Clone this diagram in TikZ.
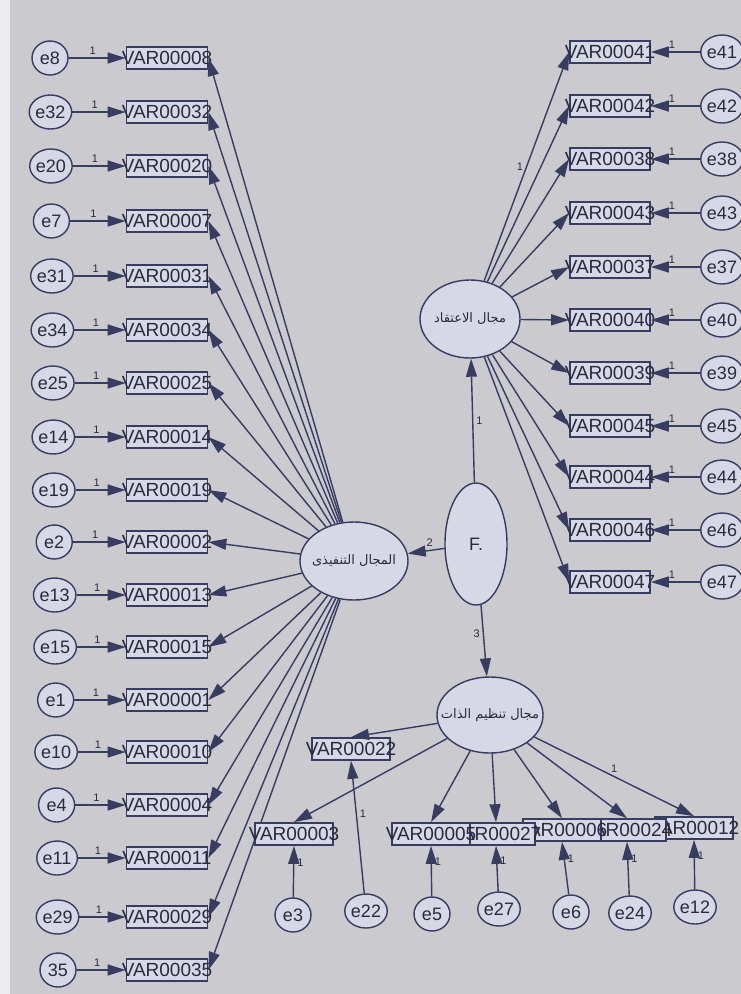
\documentclass[tikz,border=0pt]{standalone}
\usepackage{fontspec}
\setmainfont{Liberation Sans}
\newfontfamily\arabicfont[Script=Arabic]{DejaVu Sans}
\TeXXeTstate=1
\usetikzlibrary{shapes.geometric,arrows.meta}
\definecolor{bgc}{RGB}{202,202,207}
\definecolor{strip}{RGB}{236,236,238}
\definecolor{navy}{RGB}{56,60,96}
\definecolor{boxfill}{RGB}{214,216,230}
\definecolor{ink}{RGB}{40,42,62}
\tikzset{
  obs/.style={rectangle, draw=navy, line width=1.7pt, fill=boxfill,
    minimum width=81pt, minimum height=22pt, inner sep=0pt},
  obsb/.style={obs, minimum width=78pt},
  obstxt/.style={font=\fontsize{19}{19}\selectfont, text=ink, inner sep=0pt},
  err/.style={ellipse, draw=navy, line width=1.4pt, fill=boxfill,
    minimum width=36pt, minimum height=34pt, inner sep=0pt,
    font=\fontsize{18}{18}\selectfont, text=ink},
  lat/.style={ellipse, draw=navy, line width=1.4pt, fill=boxfill, inner sep=0pt, text=ink},
  lattxt/.style={inner sep=0pt, text=ink, font=\fontsize{13}{13}\selectfont\arabicfont},
  arr/.style={draw=navy, line width=1.4pt, -{Triangle[length=18pt,width=11pt]}},
  one/.style={font=\fontsize{11}{11}\selectfont, text=ink, inner sep=3pt}
}
\begin{document}
\begin{tikzpicture}[x=1pt,y=-1pt]
\useasboundingbox (0,0) rectangle (741,994);
\fill[bgc] (0,0) rectangle (741,994);
\fill[strip] (0,0) rectangle (10,994);

% latent variables
\node[lat, minimum width=108pt, minimum height=78pt] (L) at (354,561) {};
\node[lattxt] (Lt) at (L) {\beginR المجال التنفيذى\endR};
\node[lat, minimum width=100pt, minimum height=78pt] (T) at (470,319) {};
\node[lattxt] (Tt) at (T) {\beginR مجال الاعتقاد\endR};
\node[lat, minimum width=106pt, minimum height=76pt] (B) at (490,715) {};
\node[lattxt] (Bt) at (B) {\beginR مجال تنظيم الذات\endR};
\node[lat, minimum width=62pt, minimum height=122pt, font=\fontsize{18}{18}\selectfont] (F) at (476,544) {F.};

\draw[arr] (F) -- node[one, above, pos=0.4]{2} (L);
\draw[arr] (F) -- node[one, right, pos=0.5]{1} (T);
\draw[arr] (F) -- node[one, left, pos=0.4]{3} (B);

% left block
\foreach \i/\en/\vn/\y in {0/e8/VAR00008/58, 1/e32/VAR00032/112, 2/e20/VAR00020/166,
  3/e7/VAR00007/221, 4/e31/VAR00031/276, 5/e34/VAR00034/330, 6/e25/VAR00025/383,
  7/e14/VAR00014/437, 8/e19/VAR00019/490, 9/e2/VAR00002/542, 10/e13/VAR00013/595,
  11/e15/VAR00015/647, 12/e1/VAR00001/700, 13/e10/VAR00010/752, 14/e4/VAR00004/805,
  15/e11/VAR00011/858, 16/e29/VAR00029/917, 17/35/VAR00035/970}{
  \pgfmathsetmacro\ex{50+8*\i/17}
  \node[err] (el\i) at (\ex,\y) {\en};
  \node[obs] (vl\i) at (167,\y) {};
  \node[obstxt] (tl\i) at (vl\i) {\vn};
  \draw[arr] (el\i) -- node[one, above, pos=0.42]{1} (vl\i.west);
  \draw[arr] (L) -- (vl\i.east);
}

% right block
\foreach \i/\en/\vn/\y in {0/e41/VAR00041/52, 1/e42/VAR00042/106, 2/e38/VAR00038/159,
  3/e43/VAR00043/213, 4/e37/VAR00037/267, 5/e40/VAR00040/320, 6/e39/VAR00039/373,
  7/e45/VAR00045/426, 8/e44/VAR00044/477, 9/e46/VAR00046/530, 10/e47/VAR00047/582}{
  \node[err] (er\i) at (722,\y) {\en};
  \node[obs, minimum width=80pt] (vr\i) at (610,\y) {};
  \node[obstxt] (tr\i) at (vr\i) {\vn};
  \draw[arr] (er\i) -- node[one, above, pos=0.57]{1} (vr\i.east);
}
\draw[arr] (T) -- node[one, left, pos=0.5]{1} (vr0.west);
\foreach \i in {1,...,10}{
  \draw[arr] (T) -- (vr\i.west);
}

% bottom block
\node[obsb] (b22) at (351,749) {};
\node[obstxt] (tb22) at (b22) {VAR00022};
\node[obsb] (b3) at (294,834) {};
\node[obstxt] (tb3) at (b3) {VAR00003};
\node[obsb] (b12) at (694,828) {};
\node[obstxt] (tb12) at (b12) {VAR00012};
\node[obsb] (b24) at (627,830) {};
\node[obstxt] (tb24) at (b24) {VAR00024};
\node[obsb] (b6) at (562,830) {};
\node[obstxt] (tb6) at (b6) {VAR00006};
\node[obsb] (b27) at (496,834) {};
\node[obstxt] (tb27) at (b27) {VAR00027};
\node[obsb] (b5) at (431,834) {};
\node[obstxt] (tb5) at (b5) {VAR00005};

\node[err] (be3) at (293,915) {e3};
\node[err] (be22) at (366,911) {e22};
\node[err] (be5) at (432,914) {e5};
\node[err] (be27) at (499,909) {e27};
\node[err] (be6) at (571,912) {e6};
\node[err] (be24) at (630,913) {e24};
\node[err] (be12) at (695,907) {e12};

\foreach \e/\b in {be3/b3, be5/b5, be27/b27, be6/b6, be24/b24, be12/b12}{
  \draw[arr] (\e) -- node[one, right, pos=0.68]{1} (\b.south);
}
\draw[arr] (be22) -- node[one, right, pos=0.6]{1} (b22.south);

\draw[arr] (B) -- (b22.north);
\foreach \b in {b3, b5, b27, b6, b24}{
  \draw[arr] (B) -- (\b.north);
}
\draw[arr] (B) -- node[one, above, pos=0.5]{1} (b12.north);
\end{tikzpicture}
\end{document}
